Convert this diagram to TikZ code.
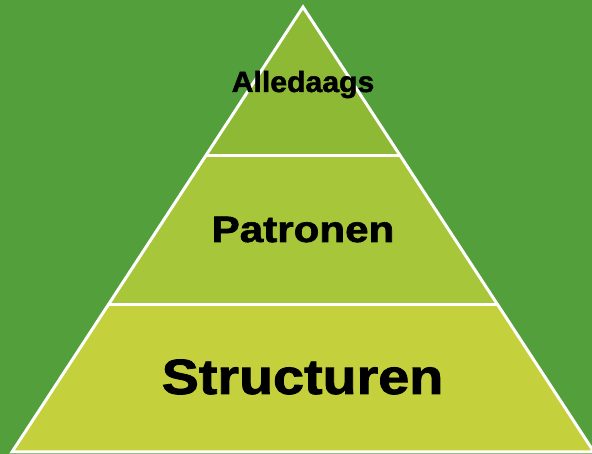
\documentclass[tikz,border=0pt]{standalone}
\usepackage{fontspec}
\setmainfont{Liberation Sans}
\newfontfamily\heavyfont[FakeBold=1.6]{Liberation Sans Bold}
\usepackage{graphicx}
\definecolor{bgc}{RGB}{83,159,59}
\definecolor{tierA}{RGB}{141,185,52}
\definecolor{tierB}{RGB}{168,198,57}
\definecolor{tierC}{RGB}{196,208,60}
\tikzset{
  tier/.style={draw=none},
  edge/.style={draw=white,line width=3pt,line join=miter},
  label/.style={inner sep=0pt,anchor=base,text=black,font=\heavyfont}
}
\begin{document}
\begin{tikzpicture}[x=1pt,y=1pt]
\fill[bgc] (0,0) rectangle (592,454);
\useasboundingbox (0,0) rectangle (592,454);
\coordinate (apex) at (303,447);
\coordinate (bl) at (12,2);
\coordinate (br) at (594,2);
\coordinate (ul) at (205.6,298);
\coordinate (ur) at (400.4,298);
\coordinate (ml) at (108.1,149);
\coordinate (mr) at (497.9,149);
\fill[tierA] (apex) -- (ul) -- (ur) -- cycle;
\fill[tierB] (ul) -- (ml) -- (mr) -- (ur) -- cycle;
\fill[tierC] (ml) -- (bl) -- (br) -- (mr) -- cycle;
\draw[edge] (apex) -- (bl) -- (br) -- cycle;
\draw[edge] (ul) -- (ur);
\draw[edge] (ml) -- (mr);
\node[label] (t1) at (303,362) {\scalebox{1.03}[1]{\fontsize{29.3}{30}\selectfont Alledaags}};
\node[label] (t2) at (303,212) {\scalebox{1.145}[1]{\fontsize{36.8}{38}\selectfont Patronen}};
\node[label] (t3) at (302.5,60) {\scalebox{1.125}[1]{\fontsize{49.5}{50}\selectfont Structuren}};
\end{tikzpicture}
\end{document}
